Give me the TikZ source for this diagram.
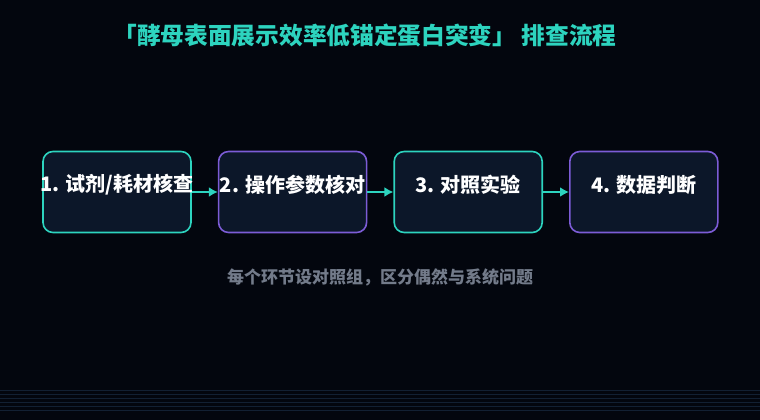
\documentclass[tikz,border=0pt]{standalone}
\usepackage{fontspec}
\setmainfont{Noto Sans CJK SC}
\usetikzlibrary{positioning, arrows.meta}
\definecolor{bgdark}{HTML}{03060E}
\definecolor{boxfill}{HTML}{0C1729}
\definecolor{tealline}{HTML}{2DD4BF}
\definecolor{purpleline}{HTML}{7C5CD6}
\definecolor{subgray}{HTML}{737B8A}
\definecolor{gridline}{HTML}{122033}
\tikzset{
  stepbox/.style   = {shape=rectangle, rounded corners=10pt,
                      draw, line width=1.6pt, fill=boxfill,
                      minimum width=148pt, minimum height=81pt},
  tealbox/.style   = {stepbox, draw=tealline},
  purplebox/.style = {stepbox, draw=purpleline},
  steptext/.style  = {font=\bfseries\fontsize{20pt}{24pt}\selectfont, text=white},
  flow/.style      = {draw=tealline, line width=2.2pt,
                      -{Latex[length=9pt, width=10pt]}}
}
\begin{document}
\begin{tikzpicture}[x=1pt, y=-1pt]
  \fill[bgdark] (0,0) rectangle (760,420);
  \useasboundingbox (0,0) rectangle (760,420);
  % faint lines at the foot
  \foreach \yy in {390,394,...,410}
    \draw[gridline, line width=0.6pt] (0,\yy) -- (760,\yy);

  \node[font=\bfseries\fontsize{23.7pt}{28pt}\selectfont, text=tealline] (title)
    at (365,35) {「酵母表面展示效率低锚定蛋白突变」 排查流程};

  \node[tealbox] (b1) at (117,192) {};
  \node[purplebox, right=26pt of b1] (b2) {};
  \node[tealbox, right=26pt of b2] (b3) {};
  \node[purplebox, right=26pt of b3] (b4) {};

  \node[steptext] (t1) at ([yshift=7pt]b1.center) {1. 试剂/耗材核查};
  \node[steptext] (t2) at ([yshift=7pt]b2.center) {2. 操作参数核对};
  \node[steptext] (t3) at ([yshift=7pt]b3.center) {3. 对照实验};
  \node[steptext] (t4) at ([yshift=7pt]b4.center) {4. 数据判断};

  \draw[flow] (b1) -- (b2);
  \draw[flow] (b2) -- (b3);
  \draw[flow] (b3) -- (b4);

  \node[font=\bfseries\fontsize{17pt}{20pt}\selectfont, text=subgray] (note)
    at (380,277) {每个环节设对照组，区分偶然与系统问题};
\end{tikzpicture}
\end{document}
